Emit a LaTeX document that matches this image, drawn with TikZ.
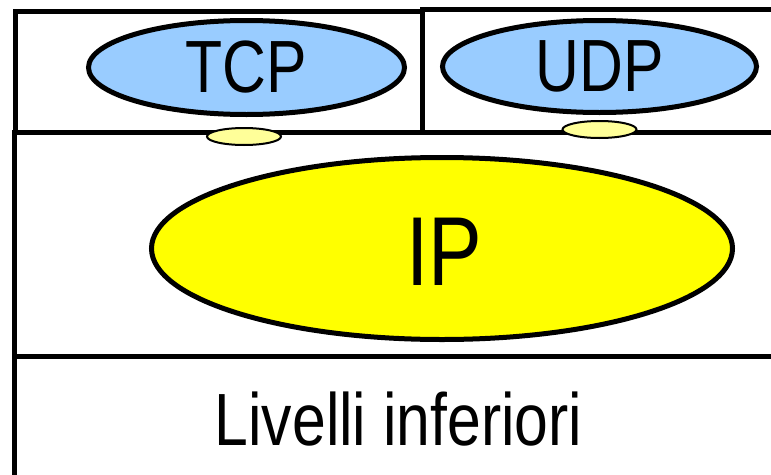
\documentclass[tikz,border=0pt]{standalone}
\usepackage{fontspec}
\setmainfont[FakeStretch=0.82]{Liberation Sans}
\usetikzlibrary{shapes.geometric}
\definecolor{lblue}{HTML}{99CCFF}
\definecolor{lyel}{HTML}{FFFF99}
\definecolor{ipyel}{HTML}{FFFF00}
\tikzset{
  layer/.style={draw=black, line width=5pt},
  proto/.style={ellipse, draw=black, line width=5pt, inner sep=0pt},
  sap/.style={ellipse, draw=black, line width=2pt, fill=lyel, inner sep=0pt, minimum width=74pt, minimum height=17pt},
  big/.style={font=\fontsize{74}{80}\selectfont}
}
\begin{document}
\begin{tikzpicture}[x=1pt,y=-1pt]
\useasboundingbox (0,0) rectangle (771,474);
% layer boxes
\draw[layer] (15.5,11.5) rectangle (422.5,132.5);
\draw[layer] (422.5,9.5) rectangle (800,132.5);
\draw[layer] (14.5,132.5) rectangle (800,356.5);
\draw[layer] (14.5,356.5) rectangle (800,500);
% protocols
\node[proto, fill=lblue, minimum width=316pt, minimum height=94pt, big] (tcp) at (246.5,67.5) {TCP};
\node[proto, fill=lblue, minimum width=314pt, minimum height=92pt, big] (udp) at (599.5,66.5) {UDP};
\node[proto, fill=ipyel, minimum width=581pt, minimum height=182pt, font=\fontsize{98}{106}\selectfont] (ip) at (442,248.5) {};
\node[font=\fontsize{98}{106}\selectfont] (iptext) at (444.5,252) {IP};
\node[sap] (saptcp) at (244,136.5) {};
\node[sap] (sapudp) at (599.5,129.5) {};
\node[big, anchor=base] (lower) at (398.5,445) {Livelli inferiori};
\end{tikzpicture}
\end{document}
